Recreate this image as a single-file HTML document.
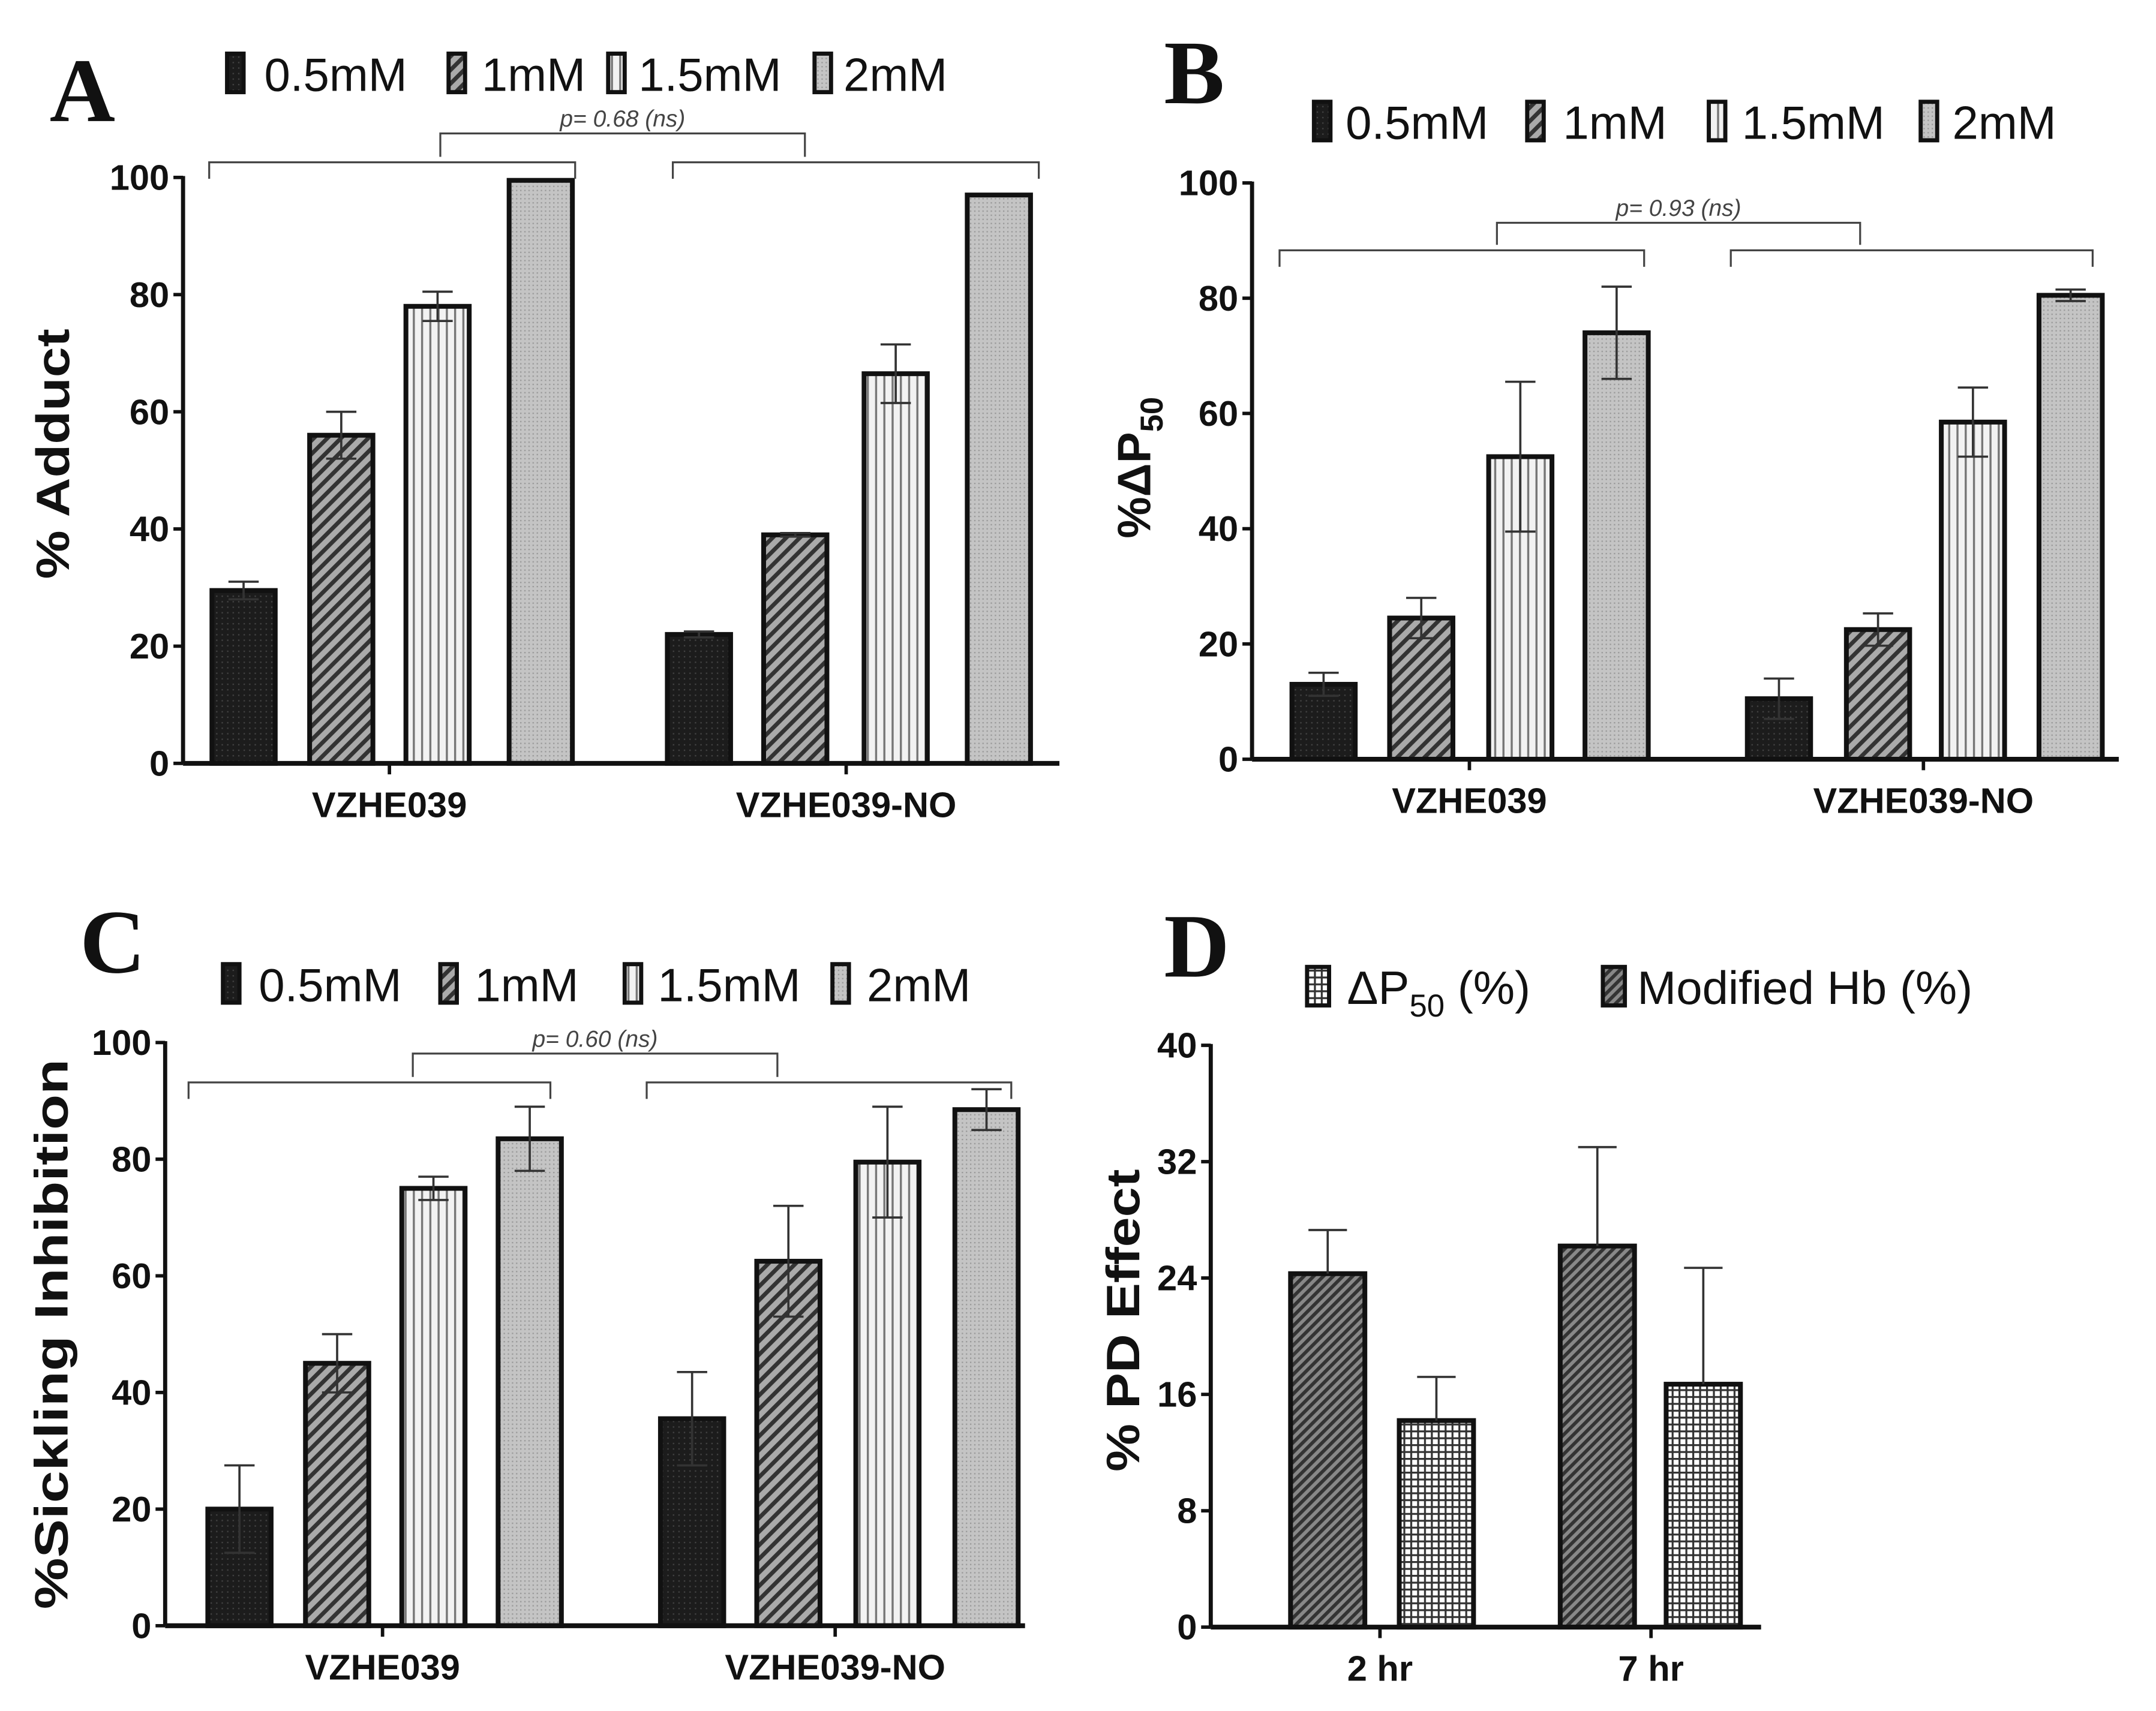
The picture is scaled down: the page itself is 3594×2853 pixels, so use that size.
<!DOCTYPE html>
<html><head><meta charset="utf-8"><style>html,body{margin:0;padding:0;background:#fff}svg{display:block}</style></head>
<body>
<svg id="fig" width="3594" height="2853" viewBox="0 0 1567 1244" xmlns="http://www.w3.org/2000/svg" font-family="Liberation Sans, sans-serif">
<defs>
<pattern id="pDark" width="4" height="4" patternUnits="userSpaceOnUse"><rect width="4" height="4" fill="#1c1c1c"/><rect x="1" y="1" width="1" height="1" fill="#444"/></pattern>
<pattern id="pDiag" width="7" height="7" patternUnits="userSpaceOnUse" patternTransform="rotate(45)"><rect width="7" height="7" fill="#aaa"/><rect width="3" height="7" fill="#333"/></pattern>
<pattern id="pVert" width="6" height="6" patternUnits="userSpaceOnUse"><rect width="6" height="6" fill="#f2f2f2"/><rect width="1.5" height="6" fill="#777"/></pattern>
<pattern id="pGray" width="3" height="3" patternUnits="userSpaceOnUse"><rect width="3" height="3" fill="#c4c4c4"/><rect width="1" height="1" fill="#999"/></pattern>
<pattern id="pHatchD" width="5" height="5" patternUnits="userSpaceOnUse" patternTransform="rotate(45)"><rect width="5" height="5" fill="#888"/><rect width="2.5" height="5" fill="#333"/></pattern>
<pattern id="pGrid" width="5" height="5" patternUnits="userSpaceOnUse"><rect width="5" height="5" fill="#fff"/><rect width="5" height="1.4" fill="#333"/><rect width="1.4" height="5" fill="#333"/></pattern>
</defs>
</svg>
<script>
// Panel A data
const catsA = ["VZHE039","VZHE039-NO"];
const valsA = [[29.5,56,78,99.5],[22,39,66.5,97]];
const errsA = [[1.5,4,2.5,0],[0.5,0.3,5,0]];
const ticksA = [0,20,40,60,80,100];
// Panel B data
const catsB = ["VZHE039","VZHE039-NO"];
const valsB = [[13,24.5,52.5,74],[10.5,22.5,58.5,80.5]];
const errsB = [[2,3.5,13,8],[3.5,2.8,6,1]];
const ticksB = [0,20,40,60,80,100];
// Panel C data
const catsC = ["VZHE039","VZHE039-NO"];
const valsC = [[20,45,75,83.5],[35.5,62.5,79.5,88.5]];
const errsC = [[7.5,5,2,5.5],[8,9.5,9.5,3.5]];
const ticksC = [0,20,40,60,80,100];
// Panel D data
const catsD = ["2 hr","7 hr"];
const valsD = [[24.3,14.2],[26.2,16.7]];
const errsD = [[3,3],[6.8,8]];
const ticksD = [0,8,16,24,32,40];
const seriesABC = ["0.5mM","1mM","1.5mM","2mM"];

const NS="http://www.w3.org/2000/svg";
const svg=document.getElementById('fig');
function mk(tag,attrs,parent){const e=document.createElementNS(NS,tag);for(const k in attrs)e.setAttribute(k,attrs[k]);(parent||svg).appendChild(e);return e;}
function txt(s,attrs,parent){const e=mk('text',attrs,parent);e.textContent=s;return e;}

function panel(cfg){
  const g=mk('g',{});
  
  
  const ymax=cfg.ticks[cfg.ticks.length-1];
  const Y=v=>cfg.y0-(v/ymax)*(cfg.y0-cfg.yTop);
  cfg.vals.forEach((grp,gi)=>{
    grp.forEach((v,si)=>{
      const cx=cfg.centers[gi][si];
      const e=cfg.errs[gi][si];
      const bar=mk('rect',{x:cx-cfg.bw/2,y:Y(v),width:cfg.bw,height:cfg.y0-Y(v),fill:'url(#'+cfg.fills[si]+')',stroke:'#111','stroke-width':3.5},g);
      
      
      if(e>0){
        const el=mk('g',{stroke:'#333','stroke-width':1.6},g);
        
        
        const lo=cfg.upOnly?v:Math.max(0,v-e);
        mk('line',{x1:cx,x2:cx,y1:Y(v+e),y2:Y(lo)},el);
        mk('line',{x1:cx-cfg.cap,x2:cx+cfg.cap,y1:Y(v+e),y2:Y(v+e)},el);
        if(!cfg.upOnly)mk('line',{x1:cx-cfg.cap,x2:cx+cfg.cap,y1:Y(v-e),y2:Y(v-e)},el);
      }
    });
  });
  const ya=mk('line',{x1:cfg.ax,x2:cfg.ax,y1:cfg.yTop-1,y2:cfg.y0,stroke:'#111','stroke-width':3},g);
  
  const xa=mk('line',{x1:cfg.ax,x2:cfg.xEnd,y1:cfg.y0,y2:cfg.y0,stroke:'#111','stroke-width':3.5},g);
  
  cfg.ticks.forEach(t=>{
    mk('line',{x1:cfg.ax-7,x2:cfg.ax,y1:Y(t),y2:Y(t),stroke:'#111','stroke-width':2.5},g);
    const tl=txt(String(t),{x:cfg.ax-10,y:Y(t)+9,'text-anchor':'end','font-size':26,'font-weight':'bold',fill:'#111'},g);
    
  });
  cfg.cats.forEach((c,gi)=>{
    mk('line',{x1:cfg.catX[gi],x2:cfg.catX[gi],y1:cfg.y0,y2:cfg.y0+8,stroke:'#111','stroke-width':2.5},g);
    const cl=txt(c,{x:cfg.catX[gi],y:cfg.y0+39,'text-anchor':'middle','font-size':26,'font-weight':'bold',fill:'#111'},g);
    
  });
  const yt=txt(cfg.ytitle,{x:0,y:0,transform:`translate(${cfg.ytX},${cfg.ytY}) rotate(-90)`,'text-anchor':'middle','font-size':34,'font-weight':'bold',fill:'#111',textLength:cfg.ytLen,lengthAdjust:'spacingAndGlyphs'},g);
  
  if(cfg.ytSub){yt.textContent='';yt.removeAttribute('textLength');yt.appendChild(document.createTextNode(cfg.ytitle));const ts=mk('tspan',{'font-size':23,dy:9},yt);ts.textContent=cfg.ytSub;}
  const L=txt(cfg.letter,{x:cfg.letX,y:cfg.letY,'font-family':'Liberation Serif, serif','font-weight':'bold','font-size':66,fill:'#111'},g);
  
  cfg.legend.forEach((it,i)=>{
    const lg=mk('g',{},g);
    
    
    mk('rect',{x:it.bx,y:cfg.legY-16,width:it.bw||12,height:28,fill:'url(#'+it.fill+')',stroke:'#111','stroke-width':3},lg);
    const t=txt(it.label,{x:it.tx,y:cfg.legY+11,'font-size':34,fill:'#111'},lg);
    if(it.sub){t.textContent='';t.appendChild(document.createTextNode(it.label));const s=mk('tspan',{'font-size':23,dy:9},t);s.textContent=it.sub;const s2=mk('tspan',{dy:-9},t);s2.textContent=it.after;}
  });
  if(cfg.br){
    const b=cfg.br;
    const bg=mk('g',{stroke:'#444','stroke-width':1.4,fill:'none'},g);
    
    b.lows.forEach(([x1,x2])=>mk('polyline',{points:`${x1},${b.lowY+12} ${x1},${b.lowY} ${x2},${b.lowY} ${x2},${b.lowY+12}`},bg));
    mk('polyline',{points:`${b.top[0]},${b.lowY-4} ${b.top[0]},${b.topY} ${b.top[1]},${b.topY} ${b.top[1]},${b.lowY-4}`},bg);
    const p=txt(b.label,{x:(b.top[0]+b.top[1])/2,y:b.topY-5,'text-anchor':'middle','font-size':17,'font-style':'italic',fill:'#444'},g);
    
  }
}
const F4=['pDark','pDiag','pVert','pGray'];
panel({name:'panel-a',letter:'A',letX:36,letY:88,cats:catsA,vals:valsA,errs:errsA,ticks:ticksA,y0:555,yTop:129,ax:133,xEnd:770,bw:46,cap:11,fills:F4,
  centers:[[177,248,318,393],[508,578,651,726]],catX:[283,615],ytitle:'% Adduct',ytLen:182,ytX:50,ytY:330,
  legY:55,legend:[{bx:165,tx:192,label:seriesABC[0],fill:'pDark'},{bx:326,tx:350,label:seriesABC[1],fill:'pDiag'},{bx:442,tx:464,label:seriesABC[2],fill:'pVert'},{bx:592,tx:613,label:seriesABC[3],fill:'pGray'}],
  br:{lows:[[152,418],[489,755]],lowY:118,top:[320,585],topY:97,label:'p= 0.68 (ns)'}});
panel({name:'panel-b',letter:'B',letX:846,letY:75,cats:catsB,vals:valsB,errs:errsB,ticks:ticksB,y0:552,yTop:133,ax:910,xEnd:1540,bw:46,cap:11,fills:F4,
  centers:[[962,1033,1105,1175],[1293,1365,1434,1505]],catX:[1068,1398],ytitle:'%ΔP',ytSub:'50',ytX:836,ytY:340,
  legY:90,legend:[{bx:955,tx:978,label:seriesABC[0],fill:'pDark'},{bx:1110,tx:1136,label:seriesABC[1],fill:'pDiag'},{bx:1242,tx:1266,label:seriesABC[2],fill:'pVert'},{bx:1396,tx:1419,label:seriesABC[3],fill:'pGray'}],
  br:{lows:[[930,1195],[1258,1521]],lowY:182,top:[1088,1352],topY:162,label:'p= 0.93 (ns)'}});
panel({name:'panel-c',letter:'C',letX:58,letY:707,cats:catsC,vals:valsC,errs:errsC,ticks:ticksC,y0:1182,yTop:758,ax:120,xEnd:745,bw:46,cap:11,fills:F4,
  centers:[[174,245,315,385],[503,573,645,717]],catX:[278,607],ytitle:'%Sickling Inhibition',ytLen:400,ytX:49,ytY:970,
  legY:717,legend:[{bx:162,tx:188,label:seriesABC[0],fill:'pDark'},{bx:320,tx:345,label:seriesABC[1],fill:'pDiag'},{bx:454,tx:478,label:seriesABC[2],fill:'pVert'},{bx:605,tx:630,label:seriesABC[3],fill:'pGray'}],
  br:{lows:[[137,400],[470,735]],lowY:787,top:[300,565],topY:766,label:'p= 0.60 (ns)'}});
panel({name:'panel-d',letter:'D',letX:846,letY:710,cats:catsD,vals:valsD,errs:errsD,ticks:ticksD,y0:1183,yTop:760,ax:880,xEnd:1280,bw:54,cap:14,upOnly:true,fills:['pHatchD','pGrid'],
  centers:[[965,1044],[1161,1238]],catX:[1003,1200],ytitle:'% PD Effect',ytLen:220,ytX:828,ytY:960,
  legY:719,legend:[{bx:950,tx:979,bw:16,label:'ΔP',sub:'50',after:' (%)',fill:'pGrid'},{bx:1165,tx:1190,bw:16,label:'Modified Hb (%)',fill:'pHatchD'}]});
</script>
</body></html>
